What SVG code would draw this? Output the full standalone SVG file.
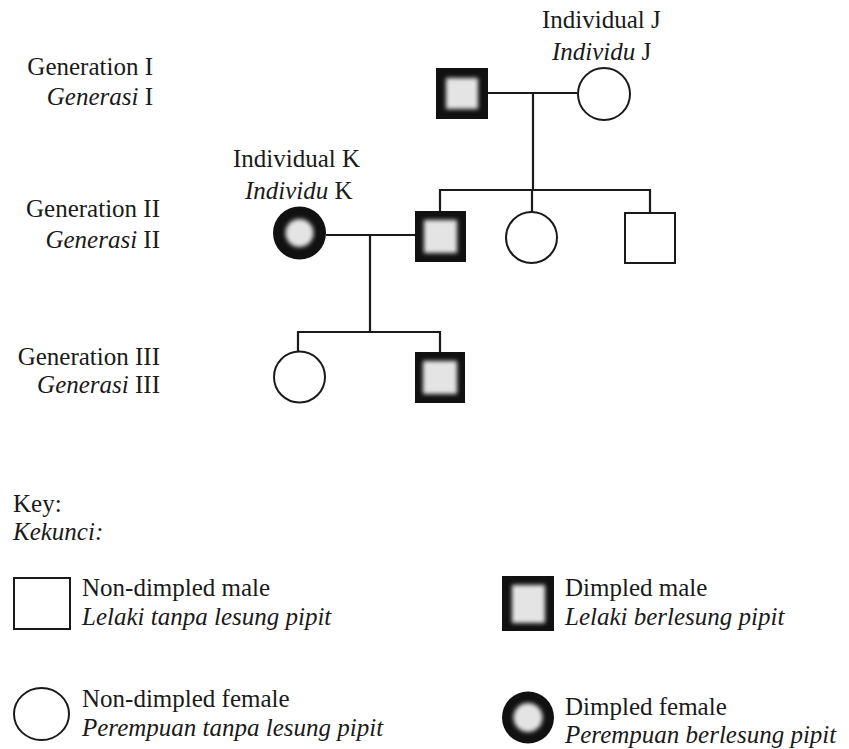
<svg xmlns="http://www.w3.org/2000/svg" width="849" height="749" viewBox="0 0 849 749" font-family="'Liberation Serif', 'DejaVu Serif', serif">
<defs>
<filter id="soft" x="-30%" y="-30%" width="160%" height="160%"><feGaussianBlur stdDeviation="2"/></filter>
<style>
text{font-family:'Liberation Serif','DejaVu Serif',serif;font-size:25px;fill:#1a1a1a}
.it{font-style:italic}
.open{fill:#fff;stroke:#1a1a1a;stroke-width:2}
.dark{fill:#111}
.inner{fill:#e4e4e4;filter:url(#soft)}
.conn line{stroke:#1a1a1a;stroke-width:2.2;fill:none}
</style>
</defs>
<rect width="849" height="749" fill="#fff"/>

<g id="labels">
<text x="153" y="75" text-anchor="end">Generation I</text>
<text x="153" y="105" text-anchor="end"><tspan class="it">Generasi</tspan> I</text>
<text x="160" y="217" text-anchor="end">Generation II</text>
<text x="160" y="248" text-anchor="end"><tspan class="it">Generasi</tspan> II</text>
<text x="160" y="365" text-anchor="end">Generation III</text>
<text x="160" y="393" text-anchor="end"><tspan class="it">Generasi</tspan> III</text>
<text x="542" y="28">Individual J</text>
<text x="552" y="60"><tspan class="it">Individu</tspan> J</text>
<text x="233" y="167">Individual K</text>
<text x="245" y="199"><tspan class="it">Individu</tspan> K</text>
</g>

<g class="conn" id="connectors">
<line x1="488" y1="93" x2="577" y2="93"/>
<line x1="533" y1="93" x2="533" y2="190"/>
<line x1="439" y1="190" x2="650" y2="190"/>
<line x1="440" y1="189" x2="440" y2="211"/>
<line x1="532" y1="190" x2="532" y2="212"/>
<line x1="650" y1="189" x2="650" y2="213"/>
<line x1="326" y1="235" x2="415" y2="235"/>
<line x1="370" y1="235" x2="370" y2="332"/>
<line x1="297" y1="332" x2="441" y2="332"/>
<line x1="298" y1="331" x2="298" y2="352"/>
<line x1="440" y1="331" x2="440" y2="352"/>
</g>

<g id="gen1-male">
<rect class="dark" x="436" y="68" width="52" height="51"/>
<rect class="inner" x="446" y="78" width="32" height="31"/>
</g>
<g id="gen1-female-J">
<circle class="open" cx="604" cy="94" r="26"/>
</g>
<g id="gen2-female-K">
<circle class="dark" cx="299.5" cy="233" r="26.5"/>
<circle class="inner" cx="299.5" cy="233" r="14"/>
</g>
<g id="gen2-male-dimpled">
<rect class="dark" x="415" y="211" width="51" height="51"/>
<rect class="inner" x="424" y="220" width="33" height="33"/>
</g>
<g id="gen2-female">
<circle class="open" cx="531.5" cy="237.5" r="25.5"/>
</g>
<g id="gen2-male">
<rect class="open" x="625" y="213" width="50" height="50"/>
</g>
<g id="gen3-female">
<circle class="open" cx="299.5" cy="377" r="25.5"/>
</g>
<g id="gen3-male">
<rect class="dark" x="415" y="352" width="50" height="51"/>
<rect class="inner" x="423" y="361" width="34" height="33"/>
</g>

<g id="key">
<text x="13" y="512">Key:</text>
<text x="13" y="540" class="it">Kekunci:</text>
</g>
<g id="key-nondimpled-male">
<rect class="open" x="14" y="578" width="56" height="51"/>
<text x="82" y="596">Non-dimpled male</text>
<text x="82" y="625" class="it">Lelaki tanpa lesung pipit</text>
</g>
<g id="key-nondimpled-female">
<ellipse class="open" cx="41.5" cy="714" rx="27.5" ry="26"/>
<text x="82" y="707">Non-dimpled female</text>
<text x="82" y="736" class="it">Perempuan tanpa lesung pipit</text>
</g>
<g id="key-dimpled-male">
<rect class="dark" x="502" y="576" width="52" height="55"/>
<rect class="inner" x="512" y="585" width="33" height="38"/>
<text x="565" y="596">Dimpled male</text>
<text x="565" y="625" class="it">Lelaki berlesung pipit</text>
</g>
<g id="key-dimpled-female">
<circle class="dark" cx="528" cy="717.5" r="26"/>
<circle class="inner" cx="528" cy="717.5" r="14.5"/>
<text x="565" y="715">Dimpled female</text>
<text x="565" y="743" class="it">Perempuan berlesung pipit</text>
</g>
</svg>
